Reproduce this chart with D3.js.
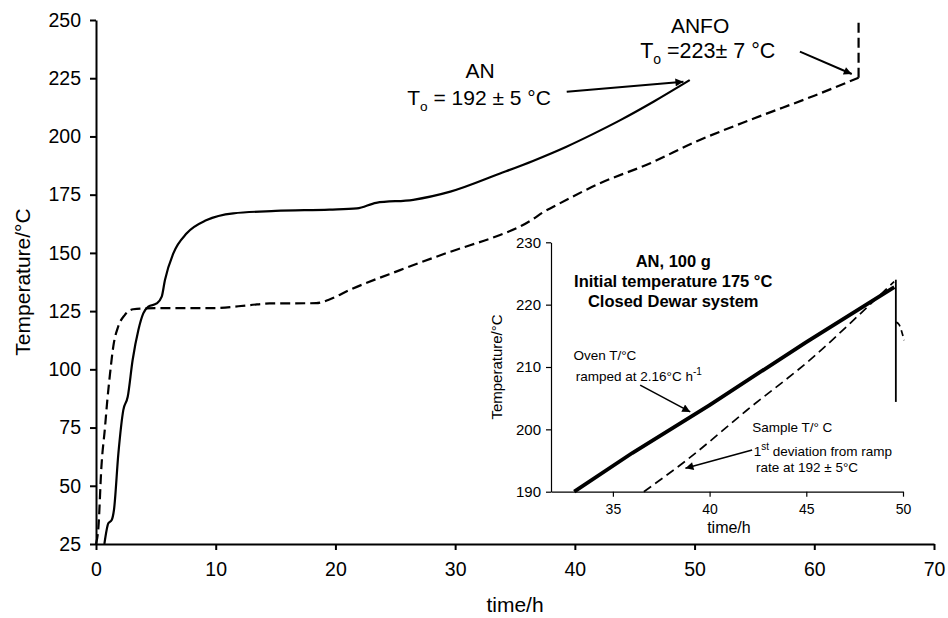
<!DOCTYPE html>
<html>
<head>
<meta charset="utf-8">
<script src="https://cdn.jsdelivr.net/npm/d3@7"></script>
<style>
  body { margin: 0; background: #fff; }
  svg { display: block; font-family: Arial, "Liberation Sans", sans-serif; }
</style>
</head>
<body>
<div id="chart"></div>
<script>
// main chart: AN (solid) and ANFO (dashed)
const anTime = [0.7, 1.03, 1.31, 1.5, 1.87, 2.28, 2.65, 3.06, 3.54, 3.95, 4.37, 5.07, 5.49, 5.76, 6.46, 7.58, 9.25, 11.47, 15, 19.5, 21.8, 23.4, 26.5, 29.6, 33.75, 36.5, 39.3, 41.5, 43.8, 46.6, 49.6];
const anTemp = [25, 33.9, 35.3, 39.6, 63.9, 82.5, 88.2, 104, 116.9, 124, 126.9, 128.3, 131.2, 138.4, 149.8, 158.4, 164.1, 167, 168, 168.6, 169.1, 171.5, 172.8, 176.3, 184.1, 189.5, 195.6, 201, 207, 215.0, 224.2];

const anfoTime = [0, 0.2, 0.45, 0.75, 0.95, 1.17, 1.45, 1.85, 2.4, 3.1, 5, 9.8, 12.9, 14.5, 18.4, 19.5, 21.2, 25.4, 29.6, 33.75, 35.5, 36.5, 37.3, 38.2, 42.1, 46.3, 50, 55, 60, 63.7];
const anfoTemp = [25, 32, 58, 75, 87, 98, 110, 118.3, 123.3, 125.8, 126.3, 126.3, 127.6, 128.3, 128.4, 130, 134.1, 142.6, 150.5, 157.7, 161.5, 164.5, 167.3, 169.8, 179.9, 188.5, 197.5, 207.8, 217.5, 225.2];
const anfoJumpTime = [63.7, 63.7];
const anfoJumpTemp = [225.2, 249.5];

const xTicks = [0, 10, 20, 30, 40, 50, 60, 70];
const yTicks = [25, 50, 75, 100, 125, 150, 175, 200, 225, 250];

// inset: AN, 100 g, ramped oven
const ovenTime = [33.0, 36, 40, 45, 49.55];
const ovenTemp = [190, 196.2, 203.9, 214.0, 222.8];
const ovenDropTime = [49.63, 49.63];
const ovenDropTemp = [224.0, 204.4];
const sampleTime = [36.6, 38.83, 41.94, 45.4, 47.64, 49.54];
const sampleTemp = [190, 195.1, 203.1, 211.7, 218.1, 223.7];
const sampleTailTime = [49.65, 49.8, 49.95, 50.06];
const sampleTailTemp = [217.2, 216.8, 215.5, 214.3];

const insetXTicks = [35, 40, 45, 50];
const insetYTicks = [190, 200, 210, 220, 230];

const W = 948, H = 618;
const svg = d3.select('#chart').append('svg').attr('width', W).attr('height', H);

const defs = svg.append('defs');
defs.append('marker')
  .attr('id', 'arrow')
  .attr('viewBox', '0 0 10 10')
  .attr('refX', 10).attr('refY', 5)
  .attr('markerWidth', 10).attr('markerHeight', 8)
  .attr('markerUnits', 'userSpaceOnUse')
  .attr('orient', 'auto')
  .append('path').attr('d', 'M0,0L10,5L0,10Z').attr('fill', '#000');

const zip = (xs, ys) => xs.map((v, i) => [v, ys[i]]);

// ---------- main chart ----------
const x = d3.scaleLinear().domain([0, 70]).range([96, 934]);
const y = d3.scaleLinear().domain([25, 250]).range([544, 20]);

const mainLine = d3.line().x(d => x(d[0])).y(d => y(d[1])).curve(d3.curveMonotoneX);
const straight = d3.line().x(d => x(d[0])).y(d => y(d[1]));

const xAxis = svg.append('g')
  .attr('transform', `translate(0,${y(25)})`)
  .call(d3.axisBottom(x).tickValues(xTicks).tickSize(6).tickSizeOuter(0).tickPadding(12));
const yAxis = svg.append('g')
  .attr('transform', `translate(${x(0)},0)`)
  .call(d3.axisLeft(y).tickValues(yTicks).tickSize(6).tickSizeOuter(0).tickPadding(9));

[xAxis, yAxis].forEach(g => {
  g.select('.domain').attr('stroke', '#000').attr('stroke-width', 2);
  g.selectAll('.tick line').attr('stroke', '#000').attr('stroke-width', 2);
  g.selectAll('.tick text').attr('font-size', 19.5).attr('fill', '#000').attr('font-family', 'Arial, "Liberation Sans", sans-serif');
});

svg.append('text')
  .attr('x', (x(0) + x(70)) / 2).attr('y', 612)
  .attr('text-anchor', 'middle').attr('font-size', 21)
  .text('time/h');
svg.append('text')
  .attr('transform', `translate(30,${(y(25) + y(250)) / 2}) rotate(-90)`)
  .attr('text-anchor', 'middle').attr('font-size', 21)
  .text('Temperature/°C');

svg.append('path').datum(zip(anfoTime, anfoTemp))
  .attr('d', mainLine).attr('fill', 'none').attr('stroke', '#000')
  .attr('stroke-width', 2.2).attr('stroke-dasharray', '10,5');
svg.append('path').datum(zip(anfoJumpTime, anfoJumpTemp))
  .attr('d', straight).attr('fill', 'none').attr('stroke', '#000')
  .attr('stroke-width', 2.2).attr('stroke-dasharray', '10,5');
svg.append('path').datum(zip(anTime, anTemp))
  .attr('d', mainLine).attr('fill', 'none').attr('stroke', '#000')
  .attr('stroke-width', 2.2);

// main annotations
function arrow(sx, sy, p0, p1, w) {
  svg.append('line')
    .attr('x1', sx(p0[0])).attr('y1', sy(p0[1]))
    .attr('x2', sx(p1[0])).attr('y2', sy(p1[1]))
    .attr('stroke', '#000').attr('stroke-width', w)
    .attr('marker-end', 'url(#arrow)');
}
function toLabel(cx, cy, before, after, size) {
  const t = svg.append('text').attr('x', cx).attr('y', cy)
    .attr('text-anchor', 'middle').attr('font-size', size);
  t.append('tspan').text(before);
  t.append('tspan').attr('font-size', size * 0.65).attr('dy', size * 0.3).text('o');
  t.append('tspan').attr('dy', -size * 0.3).text(after);
}

svg.append('text').attr('x', x(32.08)).attr('y', y(225.1))
  .attr('text-anchor', 'middle').attr('font-size', 21).text('AN');
toLabel(x(32.0), y(213.5), 'T', ' = 192 ± 5 °C', 21);
arrow(x, y, [39.32, 219.2], [49.07, 223.5], 2);

svg.append('text').attr('x', x(50.46)).attr('y', y(244.4))
  .attr('text-anchor', 'middle').attr('font-size', 21).text('ANFO');
toLabel(x(51.1), y(233.7), 'T', ' =223± 7 °C', 21.5);
arrow(x, y, [58.8, 236.4], [63.13, 226.8], 2);

// ---------- inset ----------
const ix = d3.scaleLinear().domain([31.8, 50]).range([551, 903]);
const iy = d3.scaleLinear().domain([190, 230]).range([491.7, 242.3]);

const ixAxis = svg.append('g')
  .attr('transform', `translate(0,${iy(190)})`)
  .call(d3.axisBottom(ix).tickValues(insetXTicks).tickSize(5).tickSizeOuter(0).tickPadding(7));
const iyAxis = svg.append('g')
  .attr('transform', `translate(${ix(31.8)},0)`)
  .call(d3.axisLeft(iy).tickValues(insetYTicks).tickSize(5).tickSizeOuter(0).tickPadding(5));
[ixAxis, iyAxis].forEach(g => {
  g.select('.domain').attr('stroke', '#000').attr('stroke-width', 1.2);
  g.selectAll('.tick line').attr('stroke', '#000').attr('stroke-width', 1.2);
  g.selectAll('.tick text').attr('fill', '#000').attr('font-family', 'Arial, "Liberation Sans", sans-serif');
});
ixAxis.selectAll('.tick text').attr('font-size', 14);
iyAxis.selectAll('.tick text').attr('font-size', 15);

svg.append('text')
  .attr('x', ix(41)).attr('y', 533)
  .attr('text-anchor', 'middle').attr('font-size', 16)
  .text('time/h');
svg.append('text')
  .attr('transform', `translate(502,${(iy(190) + iy(230)) / 2}) rotate(-90)`)
  .attr('text-anchor', 'middle').attr('font-size', 15)
  .text('Temperature/°C');

const insetLine = d3.line().x(d => ix(d[0])).y(d => iy(d[1]));

svg.append('path').datum(zip(sampleTime, sampleTemp))
  .attr('d', insetLine.curve(d3.curveMonotoneX)).attr('fill', 'none').attr('stroke', '#000')
  .attr('stroke-width', 1.7).attr('stroke-dasharray', '9,5');
svg.append('path').datum(zip(sampleTailTime, sampleTailTemp))
  .attr('d', insetLine.curve(d3.curveMonotoneX)).attr('fill', 'none').attr('stroke', '#000')
  .attr('stroke-width', 1.7).attr('stroke-dasharray', '6,4');
svg.append('path').datum(zip(ovenTime, ovenTemp))
  .attr('d', insetLine.curve(d3.curveLinear)).attr('fill', 'none').attr('stroke', '#000')
  .attr('stroke-width', 3.8);
svg.append('path').datum(zip(ovenDropTime, ovenDropTemp))
  .attr('d', insetLine.curve(d3.curveLinear)).attr('fill', 'none').attr('stroke', '#000')
  .attr('stroke-width', 1.8);

// inset title
const title = ['AN, 100 g', 'Initial temperature 175 °C', 'Closed Dewar system'];
const titleY = [226.1, 222.9, 219.7];
title.forEach((t, i) => {
  svg.append('text').attr('x', ix(38.12)).attr('y', iy(titleY[i]))
    .attr('text-anchor', 'middle').attr('font-size', 16.5).attr('font-weight', 'bold')
    .text(t);
});

// inset annotations
svg.append('text').attr('x', ix(32.96)).attr('y', iy(211.1)).attr('font-size', 13.5).text('Oven T/°C');
const ramp = svg.append('text').attr('x', ix(33.08)).attr('y', iy(207.8)).attr('font-size', 13.5);
ramp.append('tspan').text('ramped at 2.16°C  h');
ramp.append('tspan').attr('font-size', 10).attr('dy', -6).text('-1');
arrow(ix, iy, [36.41, 207.1], [39.0, 202.8], 1.6);

svg.append('text').attr('x', ix(42.2)).attr('y', iy(199.5)).attr('font-size', 13.5).text('Sample T/° C');
const dev = svg.append('text').attr('x', ix(42.28)).attr('y', iy(195.7)).attr('font-size', 13.5);
dev.append('tspan').text('1');
dev.append('tspan').attr('font-size', 10).attr('dy', -6).text('st');
dev.append('tspan').attr('dy', 6).text(' deviation from ramp');
svg.append('text').attr('x', ix(42.4)).attr('y', iy(193.2)).attr('font-size', 13.5).text('rate at 192 ± 5°C');
arrow(ix, iy, [42.2, 196.7], [38.75, 193.75], 1.6);
</script>
</body>
</html>
